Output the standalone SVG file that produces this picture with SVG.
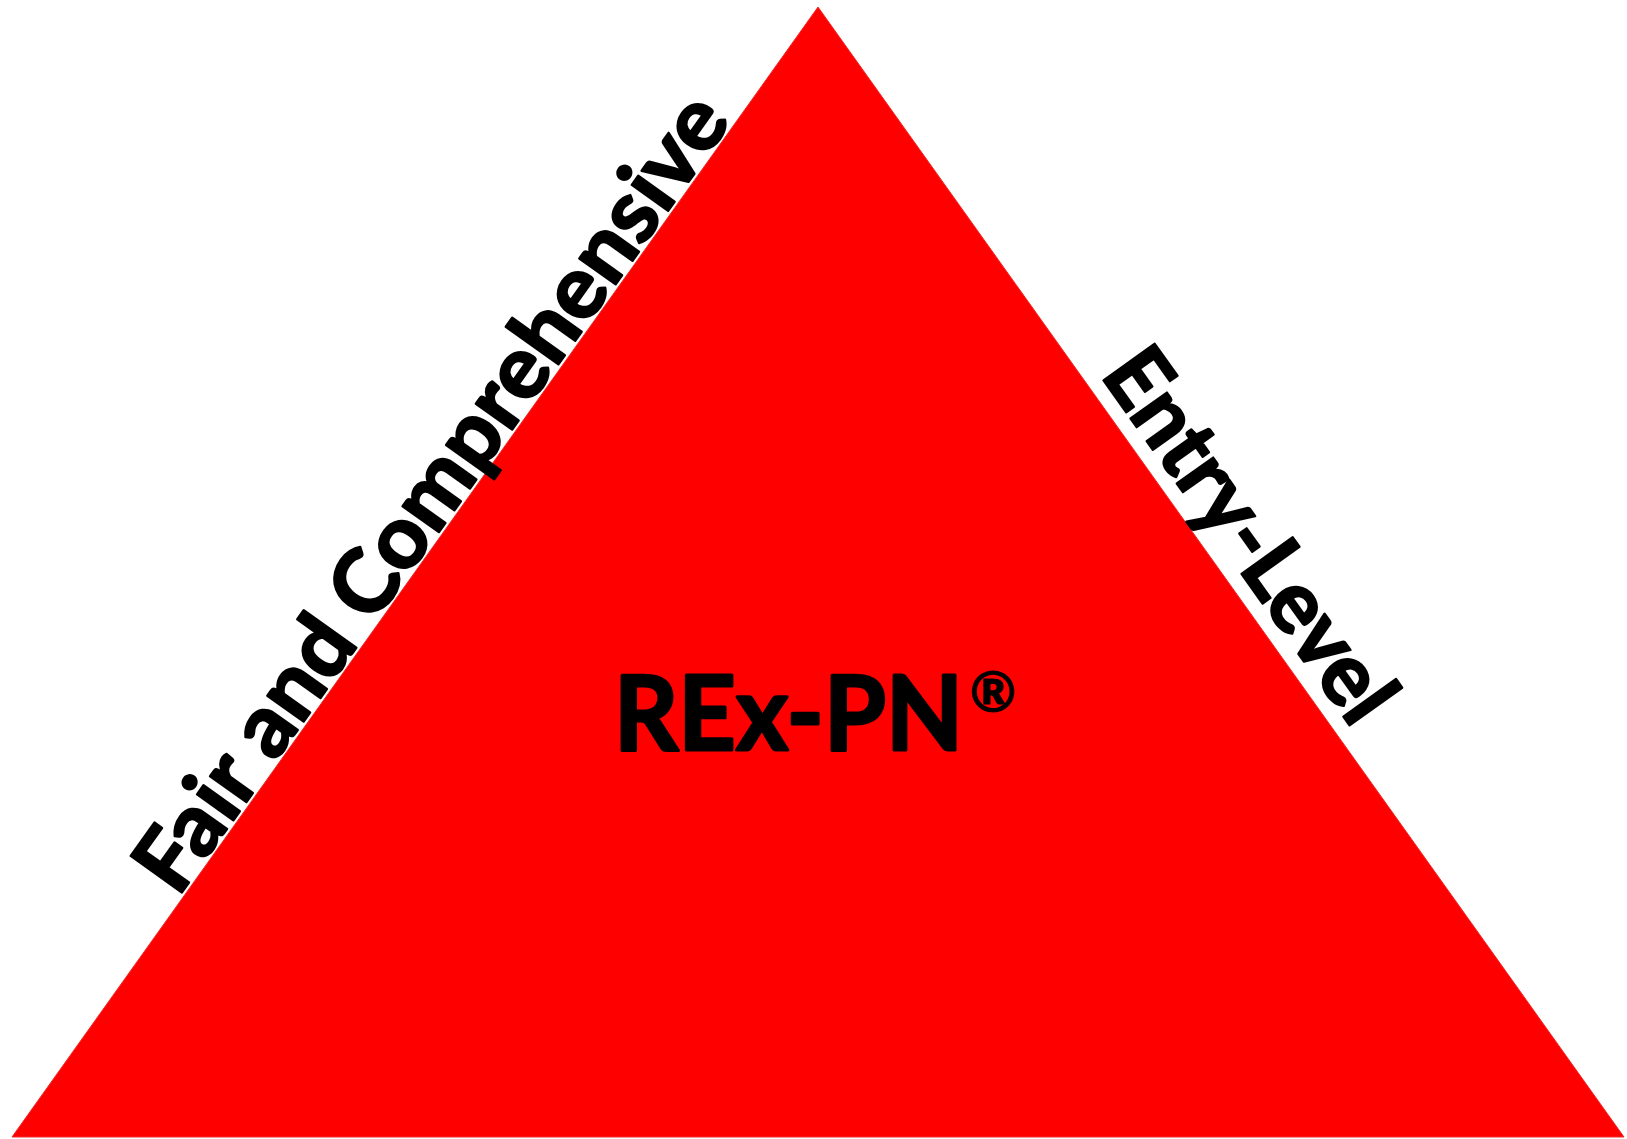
<svg xmlns="http://www.w3.org/2000/svg" width="1627" height="1139" viewBox="0 0 1627 1139">
<style>
.lbl{font-family:Lato,"Open Sans","Liberation Sans",sans-serif;font-weight:bold;fill:#000;stroke:#000;stroke-width:2.4;stroke-linejoin:round;}
</style>
<rect width="1627" height="1139" fill="#fff"/>
<g id="triangle">
<polygon points="818,7 12,1137 1624,1137" fill="#ff0000" stroke="#f02a2a" stroke-width="1"/>
</g>
<g id="left-label">
<text class="lbl" font-size="87" transform="translate(180,895) rotate(-54.5)" x="-4" y="0" textLength="955" lengthAdjust="spacingAndGlyphs">Fair and Comprehensive</text>
</g>
<g id="right-label">
<text class="lbl" font-size="87" transform="translate(1101.7,378) rotate(54.5)" x="-4" y="0" textLength="436" lengthAdjust="spacingAndGlyphs">Entry-Level</text>
</g>
<g id="center-label">
<text class="lbl" font-size="103" x="614" y="750" textLength="349" lengthAdjust="spacingAndGlyphs" style="stroke-width:3">REx-PN</text>
<text class="lbl" font-size="56" x="993" y="712" text-anchor="middle" style="stroke-width:1.2">®</text>
</g>
</svg>
